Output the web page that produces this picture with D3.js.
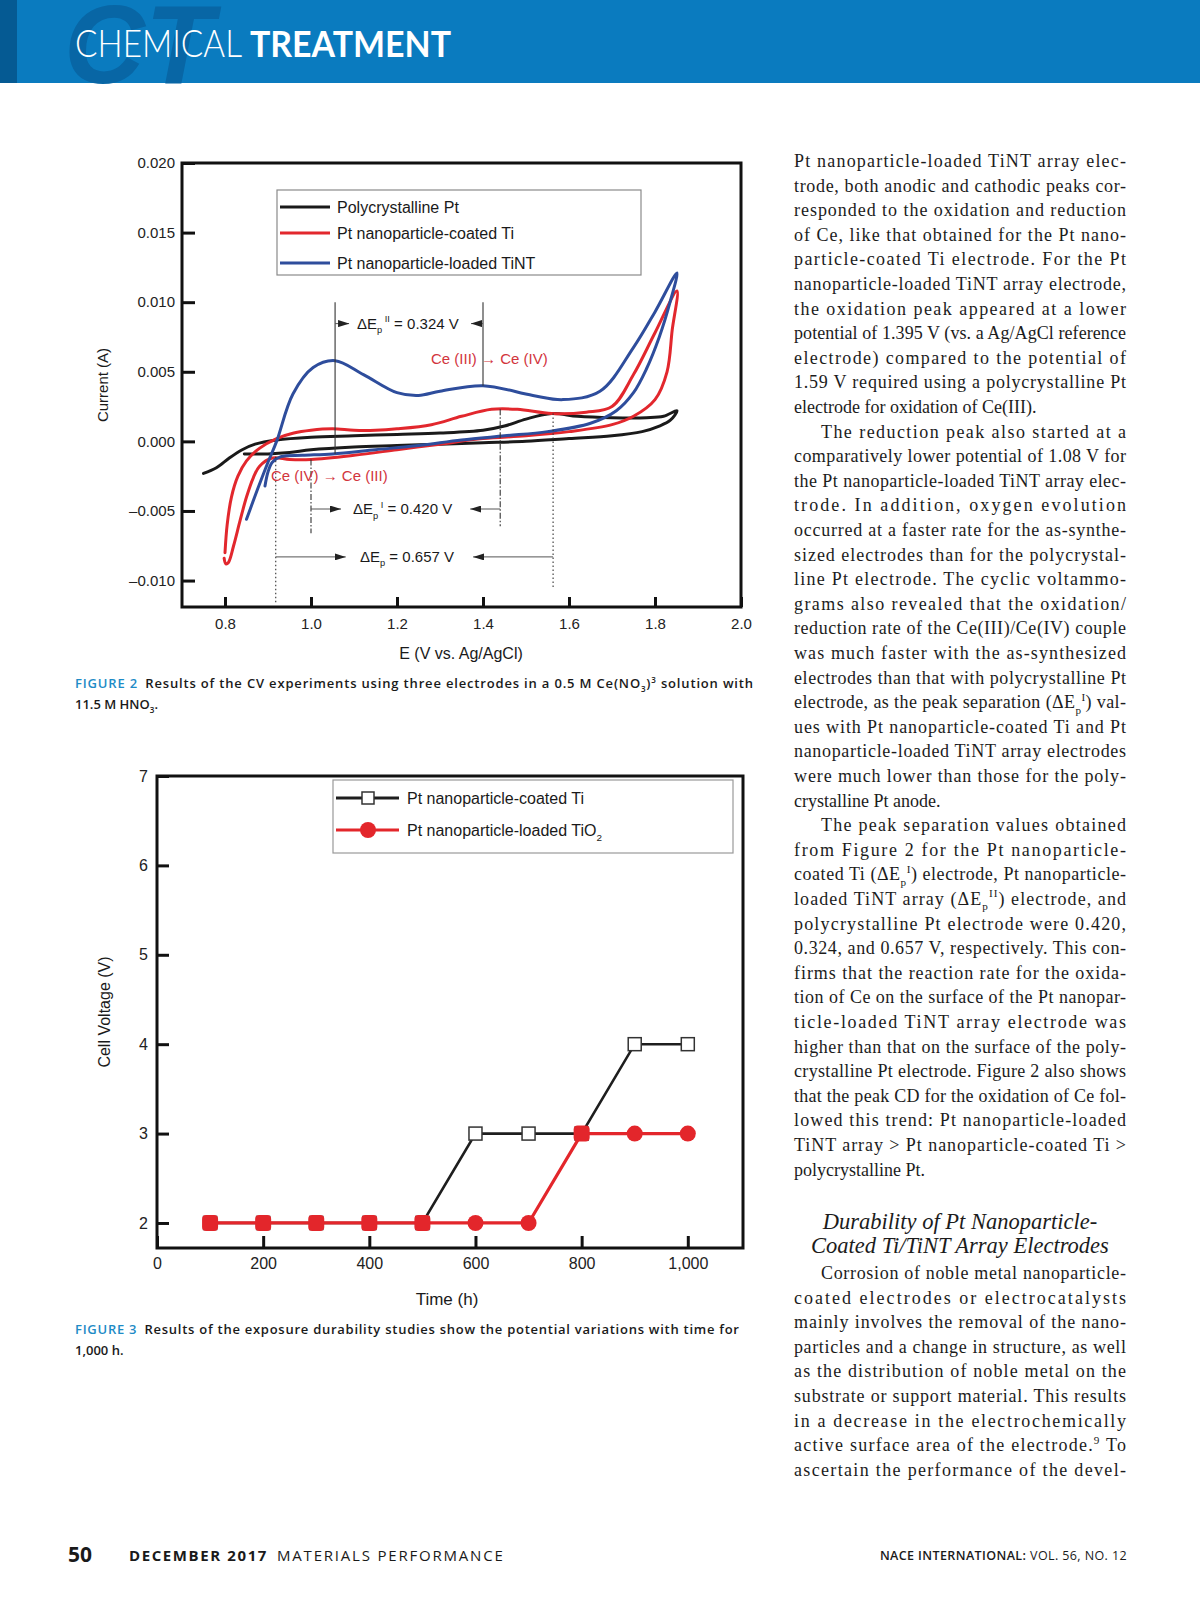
<!DOCTYPE html>
<html>
<head>
<meta charset="UTF-8">
<title>Chemical Treatment - Figures 2 and 3</title>
<script src="https://cdn.jsdelivr.net/npm/d3@7"></script>
<style>
  body { margin: 0; background: #fff; }
  svg { display: block; }
</style>
</head>
<body>
<script>
// ---------- Figure 2: cyclic voltammograms, points are [E (V vs Ag/AgCl), current (A)]
var cvSeries = ["Polycrystalline Pt", "Pt nanoparticle-coated Ti", "Pt nanoparticle-loaded TiNT"];

var cvPolyPt = [
  [0.750,-0.0023],[0.780,-0.0019],[0.810,-0.0012],[0.840,-0.0006],[0.870,-0.0002],[0.920,0.0001],
  [1.000,0.0003],[1.100,0.0004],[1.200,0.0005],[1.300,0.0006],[1.400,0.0008],[1.450,0.0011],
  [1.500,0.0016],[1.560,0.0020],[1.620,0.0018],[1.700,0.0017],[1.780,0.0017],[1.820,0.0018],[1.851,0.0022],
  [1.835,0.0015],[1.810,0.0011],[1.770,0.0007],[1.700,0.0004],[1.600,0.0002],[1.500,0.0000],
  [1.400,-0.0001],[1.300,-0.0002],[1.200,-0.0003],[1.100,-0.0004],[1.000,-0.0006],[0.950,-0.0008],
  [0.900,-0.0009],[0.845,-0.0009]
];

var cvCoatedTi = [
  [0.800,-0.0080],[0.805,-0.0060],[0.815,-0.0040],[0.830,-0.0025],[0.850,-0.0014],[0.880,-0.0005],
  [0.920,0.0002],[0.960,0.0006],[1.000,0.0008],[1.050,0.0009],[1.100,0.0008],[1.150,0.0008],
  [1.200,0.0009],[1.280,0.0012],[1.350,0.0018],[1.420,0.0023],[1.480,0.0023],[1.560,0.0020],
  [1.640,0.0021],[1.700,0.0025],[1.750,0.0048],[1.800,0.0078],[1.851,0.0108],
  [1.840,0.0080],[1.828,0.0050],[1.800,0.0030],[1.750,0.0018],[1.700,0.0012],[1.600,0.0007],
  [1.500,0.0004],[1.400,0.0002],[1.300,-0.0002],[1.200,-0.0006],[1.100,-0.0010],[1.000,-0.0013],
  [0.950,-0.0013],[0.910,-0.0012],[0.880,-0.0018],[0.866,-0.0026],[0.850,-0.0040],[0.835,-0.0057],
  [0.820,-0.0075],[0.808,-0.0087],[0.802,-0.0088],[0.798,-0.0084]
];

var cvLoadedTiNT = [
  [0.850,-0.0056],[0.875,-0.0035],[0.900,-0.0015],[0.920,0.0000],[0.958,0.0034],[1.005,0.0053],
  [1.056,0.0058],[1.122,0.0048],[1.200,0.0035],[1.250,0.0033],[1.300,0.0036],[1.400,0.0040],
  [1.516,0.0033],[1.586,0.0030],[1.672,0.0036],[1.749,0.0067],[1.800,0.0093],[1.851,0.0121],
  [1.835,0.0100],[1.810,0.0075],[1.780,0.0052],[1.750,0.0035],[1.710,0.0022],[1.650,0.0013],
  [1.550,0.0007],[1.450,0.0004],[1.350,0.0001],[1.250,-0.0003],[1.150,-0.0006],[1.050,-0.0009],
  [0.980,-0.0010],[0.930,-0.0011],[0.910,-0.0015],[0.900,-0.0022],[0.893,-0.0032]
];

var cvXTicks = [0.8, 1.0, 1.2, 1.4, 1.6, 1.8, 2.0];
var cvYTicks = [-0.010, -0.005, 0.000, 0.005, 0.010, 0.015, 0.020];

// peak positions (V) used for the separation markers
var peakOxTiNT = 1.056, peakOxTiNT2 = 1.40;
var peakRedTi = 1.00, peakOxTi = 1.44;
var peakRedPt = 0.918, peakOxPt = 1.563;

// ---------- Figure 3: cell voltage vs time
var durSeries = ["Pt nanoparticle-coated Ti", "Pt nanoparticle-loaded TiO_{2}"];
var durTime = [100, 200, 300, 400, 500, 600, 700, 800, 900, 1000];
var durCoatedTi = [2, 2, 2, 2, 2, 3, 3, 3, 4, 4];
var durLoadedTiO2 = [2, 2, 2, 2, 2, 2, 2, 3, 3, 3];
var durXTicks = [0, 200, 400, 600, 800, 1000];
var durYTicks = [2, 3, 4, 5, 6, 7];

var W = 1200, H = 1606;
var sans = "'Liberation Sans', Arial, Helvetica, sans-serif";
var narrow = "'Liberation Sans Narrow', 'Liberation Sans', Arial, sans-serif";
var serif = "'Liberation Serif', 'Times New Roman', serif";
var capFont = "'Open Sans', 'Noto Sans', sans-serif";

var svg = d3.select("body").append("svg")
  .attr("width", W).attr("height", H)
  .attr("viewBox", "0 0 " + W + " " + H);

var defs = svg.append("defs");
defs.append("marker").attr("id", "ahead")
  .attr("markerUnits", "userSpaceOnUse")
  .attr("markerWidth", 11).attr("markerHeight", 7)
  .attr("refX", 11).attr("refY", 3.5).attr("orient", "auto")
  .append("path").attr("d", "M0,0 L11,3.5 L0,7 Z").attr("fill", "#222");

// text with _{sub} and ^{sup} markup
function rich(sel, str, fs) {
  var parts = str.split(/(_\{[^}]*\}|\^\{[^}]*\})/).filter(function (s) { return s.length; });
  var cur = 0;
  parts.forEach(function (p) {
    var off = 0, txt = p, small = false;
    if (p.indexOf("_{") === 0) { off = fs * 0.3; txt = p.slice(2, -1); small = true; }
    else if (p.indexOf("^{") === 0) { off = -fs * 0.42; txt = p.slice(2, -1); small = true; }
    var t = sel.append("tspan").attr("dy", off - cur).text(txt);
    if (small) t.attr("font-size", fs * 0.62);
    cur = off;
  });
  return sel;
}

// ---------- header
var hdr = svg.append("g");
hdr.append("rect").attr("width", W).attr("height", 83).attr("fill", "#0a7bbf");
// big watermark letters behind the title
hdr.append("text").attr("x", 64).attr("y", 83)
  .attr("font-family", sans).attr("font-weight", "bold").attr("font-style", "italic")
  .attr("font-size", 112).attr("fill", "#0866a5").text("CT");
hdr.append("rect").attr("width", 17).attr("height", 83).attr("fill", "#055a93");
hdr.append("text").attr("x", 75).attr("y", 57)
  .attr("font-family", "Lato, 'Open Sans', sans-serif").attr("font-weight", 300)
  .attr("font-size", 37).attr("fill", "#fff")
  .attr("textLength", 167).attr("lengthAdjust", "spacingAndGlyphs").text("CHEMICAL");
hdr.append("text").attr("x", 250).attr("y", 57)
  .attr("font-family", "Lato, 'Open Sans', sans-serif").attr("font-weight", 700)
  .attr("font-size", 37).attr("fill", "#fff")
  .attr("textLength", 201).attr("lengthAdjust", "spacingAndGlyphs").text("TREATMENT");

// ---------- Figure 2
var x2 = d3.scaleLinear().domain([0.7, 2.0]).range([182, 741]);
var y2 = d3.scaleLinear().domain([-0.0119, 0.020]).range([607, 163]);
var f2 = svg.append("g");

function styleAxis(g, fs, fam) {
  g.select(".domain").remove();
  g.selectAll(".tick line").attr("stroke", "#111").attr("stroke-width", 3);
  g.selectAll(".tick text").attr("font-size", fs).attr("font-family", fam).attr("fill", "#222");
}

var yFmt = function (d) {
  var s = d3.format(".3f")(Math.abs(d));
  return d < 0 ? "\u2013" + s : s;
};

f2.append("g").attr("transform", "translate(0,607)")
  .call(d3.axisBottom(x2).tickValues(cvXTicks).tickFormat(d3.format(".1f"))
    .tickSizeInner(-10).tickSizeOuter(0).tickPadding(11))
  .call(styleAxis, 15, sans);
f2.append("g").attr("transform", "translate(182,0)")
  .call(d3.axisLeft(y2).tickValues(cvYTicks).tickFormat(yFmt)
    .tickSizeInner(-13).tickSizeOuter(0).tickPadding(7))
  .call(styleAxis, 15, sans);

var cvLine = d3.line().x(function (d) { return x2(d[0]); }).y(function (d) { return y2(d[1]); })
  .curve(d3.curveCatmullRom.alpha(0.5));
var cvColors = ["#1a1a1a", "#e2272d", "#2e4d9c"];
[cvPolyPt, cvCoatedTi, cvLoadedTiNT].forEach(function (s, i) {
  f2.append("path").attr("d", cvLine(s)).attr("fill", "none")
    .attr("stroke", cvColors[i]).attr("stroke-width", 3).attr("stroke-linejoin", "round")
    .attr("stroke-linecap", "round");
});

// peak markers
function vline(e, i0, i1, dash) {
  f2.append("line").attr("x1", x2(e)).attr("x2", x2(e)).attr("y1", y2(i0)).attr("y2", y2(i1))
    .attr("stroke", "#333").attr("stroke-width", 1.1).attr("stroke-dasharray", dash || null);
}
vline(peakOxTiNT, 0.0100, -0.0009);
vline(peakOxTiNT2, 0.0100, 0.0040);
vline(peakRedTi, -0.0013, -0.0066, "6,2,1.5,2");
vline(peakOxTi, 0.0023, -0.0061, "6,2,1.5,2");
vline(peakRedPt, -0.0011, -0.0116, "1.5,2.5");
vline(peakOxPt, 0.0020, -0.0105, "1.5,2.5");

function arrow(xa, xb, yv) {
  f2.append("line").attr("x1", xa).attr("x2", xb).attr("y1", y2(yv)).attr("y2", y2(yv))
    .attr("stroke", "#555").attr("stroke-width", 1).attr("marker-end", "url(#ahead)");
}
function note(x, yv, str, color) {
  rich(f2.append("text").attr("x", x).attr("y", y2(yv) + 5)
    .attr("font-family", sans).attr("font-size", 15).attr("fill", color || "#1a1a1a"), str, 15);
}
// ΔEp(II)
arrow(x2(peakOxTiNT), x2(peakOxTiNT) + 14, 0.00846);
arrow(x2(peakOxTiNT2), x2(peakOxTiNT2) - 12, 0.00846);
note(357, 0.00846, "\u0394E_{p}^{ II} = 0.324 V");
// ΔEp(I)
arrow(x2(peakRedTi), x2(peakRedTi) + 30, -0.00486);
arrow(x2(peakOxTi), x2(peakOxTi) - 30, -0.00486);
note(353, -0.00486, "\u0394E_{p}^{ I} = 0.420 V");
// ΔEp
arrow(x2(peakRedPt), x2(peakRedPt) + 70, -0.0083);
arrow(x2(peakOxPt), x2(peakOxPt) - 80, -0.0083);
note(360, -0.0083, "\u0394E_{p} = 0.657 V");
note(431, 0.00595, "Ce (III) \u2192 Ce (IV)", "#d2353c");
note(271, -0.00250, "Ce (IV) \u2192 Ce (III)", "#d2353c");

// legend
var lg2 = f2.append("g");
lg2.append("rect").attr("x", 277).attr("y", 190).attr("width", 364).attr("height", 85)
  .attr("fill", "#fff").attr("stroke", "#8a8a8a").attr("stroke-width", 1.2);
cvSeries.forEach(function (name, i) {
  var yy = [207, 233, 263][i];
  lg2.append("line").attr("x1", 280).attr("x2", 330).attr("y1", yy).attr("y2", yy)
    .attr("stroke", cvColors[i]).attr("stroke-width", 3.2);
  lg2.append("text").attr("x", 337).attr("y", yy + 6).attr("font-family", sans)
    .attr("font-size", 16).attr("fill", "#1a1a1a").text(name);
});

f2.append("rect").attr("x", 182).attr("y", 163).attr("width", 741 - 182).attr("height", 607 - 163)
  .attr("fill", "none").attr("stroke", "#111").attr("stroke-width", 3);

f2.append("text").attr("transform", "translate(102,385) rotate(-90)")
  .attr("text-anchor", "middle").attr("dominant-baseline", "central")
  .attr("font-family", sans).attr("font-size", 15).attr("fill", "#1a1a1a").text("Current (A)");
f2.append("text").attr("x", 461).attr("y", 659).attr("text-anchor", "middle")
  .attr("font-family", sans).attr("font-size", 16).attr("fill", "#1a1a1a").text("E (V vs. Ag/AgCl)");

// ---------- Figure 3
var x3 = d3.scaleLinear().domain([0, 1104]).range([157, 743]);
var y3 = d3.scaleLinear().domain([1.72, 7]).range([1248, 776]);
var f3 = svg.append("g");

f3.append("g").attr("transform", "translate(0,1248)")
  .call(d3.axisBottom(x3).tickValues(durXTicks).tickFormat(d3.format(","))
    .tickSizeInner(-12).tickSizeOuter(0).tickPadding(10))
  .call(styleAxis, 16, narrow);
f3.append("g").attr("transform", "translate(157,0)")
  .call(d3.axisLeft(y3).tickValues(durYTicks).tickFormat(d3.format("d"))
    .tickSizeInner(-12).tickSizeOuter(0).tickPadding(9))
  .call(styleAxis, 16, narrow);

var durLine = d3.line().x(function (d) { return x3(d[0]); }).y(function (d) { return y3(d[1]); });
var coated = durTime.map(function (t, i) { return [t, durCoatedTi[i]]; });
var loaded = durTime.map(function (t, i) { return [t, durLoadedTiO2[i]]; });

f3.append("path").attr("d", durLine(coated)).attr("fill", "none")
  .attr("stroke", "#1e1e1e").attr("stroke-width", 2.6);
f3.selectAll(".sq").data(coated).enter().append("rect")
  .attr("x", function (d) { return x3(d[0]) - 6.5; }).attr("y", function (d) { return y3(d[1]) - 6.5; })
  .attr("width", 13).attr("height", 13).attr("fill", "#fff").attr("stroke", "#333").attr("stroke-width", 1.5);
f3.append("path").attr("d", durLine(loaded)).attr("fill", "none")
  .attr("stroke", "#e3262b").attr("stroke-width", 3.2);
loaded.forEach(function (d, i) {
  if (d[1] === durCoatedTi[i]) {
    f3.append("rect").attr("x", x3(d[0]) - 8).attr("y", y3(d[1]) - 8).attr("width", 16).attr("height", 16)
      .attr("rx", 4).attr("fill", "#e3262b");
  } else {
    f3.append("circle").attr("cx", x3(d[0])).attr("cy", y3(d[1])).attr("r", 8).attr("fill", "#e3262b");
  }
});

var lg3 = f3.append("g");
lg3.append("rect").attr("x", 333).attr("y", 780).attr("width", 400).attr("height", 73)
  .attr("fill", "#fff").attr("stroke", "#999").attr("stroke-width", 1.2);
lg3.append("line").attr("x1", 336).attr("x2", 399).attr("y1", 798).attr("y2", 798)
  .attr("stroke", "#1e1e1e").attr("stroke-width", 3);
lg3.append("rect").attr("x", 362).attr("y", 792).attr("width", 12).attr("height", 12)
  .attr("fill", "#fff").attr("stroke", "#333").attr("stroke-width", 1.5);
lg3.append("line").attr("x1", 336).attr("x2", 399).attr("y1", 830).attr("y2", 830)
  .attr("stroke", "#e3262b").attr("stroke-width", 3.2);
lg3.append("circle").attr("cx", 368).attr("cy", 830).attr("r", 8).attr("fill", "#e3262b");
durSeries.forEach(function (name, i) {
  rich(lg3.append("text").attr("x", 407).attr("y", [798, 830][i] + 6)
    .attr("font-family", sans).attr("font-size", 16).attr("fill", "#1a1a1a"), name, 16);
});

f3.append("rect").attr("x", 157).attr("y", 776).attr("width", 743 - 157).attr("height", 1248 - 776)
  .attr("fill", "none").attr("stroke", "#111").attr("stroke-width", 3);

f3.append("text").attr("transform", "translate(104,1012) rotate(-90)")
  .attr("text-anchor", "middle").attr("dominant-baseline", "central")
  .attr("font-family", narrow).attr("font-size", 16).attr("fill", "#1a1a1a").text("Cell Voltage (V)");
f3.append("text").attr("x", 447).attr("y", 1305).attr("text-anchor", "middle")
  .attr("font-family", narrow).attr("font-size", 17).attr("fill", "#1a1a1a").text("Time (h)");

// ---------- captions
function caption(label, line1, w1, line2, x, y) {
  var t = svg.append("text").attr("x", x).attr("y", y).attr("font-family", capFont)
    .attr("font-size", 13).attr("font-weight", 600).attr("fill", "#1a1a1a")
    .attr("textLength", w1).attr("lengthAdjust", "spacing");
  t.append("tspan").attr("fill", "#1e8bc6").text(label + "\u2002");
  rich(t, line1, 13);
  rich(svg.append("text").attr("x", x).attr("y", y + 21).attr("font-family", capFont)
    .attr("font-size", 13).attr("font-weight", 600).attr("fill", "#1a1a1a"), line2, 13);
}
caption("FIGURE 2", "Results of the CV experiments using three electrodes in a 0.5 M Ce(NO_{3})^{3} solution with",
  678, "11.5 M HNO_{3}.", 75, 688);
caption("FIGURE 3", "Results of the exposure durability studies show the potential variations with time for",
  664, "1,000 h.", 75, 1334);

// ---------- right column text
var fsBody = 18;
var col = svg.append("g").attr("font-family", serif).attr("font-size", fsBody).attr("fill", "#1c1c1c");
var colX = 794, colW = 332, lead = 24.6, indent = 27;
var block1 = [
  ["Pt nanoparticle-loaded TiNT array elec-", 1],
  ["trode, both anodic and cathodic peaks cor-", 1],
  ["responded to the oxidation and reduction", 1],
  ["of Ce, like that obtained for the Pt nano-", 1],
  ["particle-coated Ti electrode. For the Pt", 1],
  ["nanoparticle-loaded TiNT array electrode,", 1],
  ["the oxidation peak appeared at a lower", 1],
  ["potential of 1.395 V (vs. a Ag/AgCl reference", 1],
  ["electrode) compared to the potential of", 1],
  ["1.59 V required using a polycrystalline Pt", 1],
  ["electrode for oxidation of Ce(III).", 0],
  ["The reduction peak also started at a", 2],
  ["comparatively lower potential of 1.08 V for", 1],
  ["the Pt nanoparticle-loaded TiNT array elec-", 1],
  ["trode. In addition, oxygen evolution", 1],
  ["occurred at a faster rate for the as-synthe-", 1],
  ["sized electrodes than for the polycrystal-", 1],
  ["line Pt electrode. The cyclic voltammo-", 1],
  ["grams also revealed that the oxidation/", 1],
  ["reduction rate of the Ce(III)/Ce(IV) couple", 1],
  ["was much faster with the as-synthesized", 1],
  ["electrodes than that with polycrystalline Pt", 1],
  ["electrode, as the peak separation (\u0394E_{p}^{I}) val-", 1],
  ["ues with Pt nanoparticle-coated Ti and Pt", 1],
  ["nanoparticle-loaded TiNT array electrodes", 1],
  ["were much lower than those for the poly-", 1],
  ["crystalline Pt anode.", 0],
  ["The peak separation values obtained", 2],
  ["from Figure 2 for the Pt nanoparticle-", 1],
  ["coated Ti (\u0394E_{p}^{I}) electrode, Pt nanoparticle-", 1],
  ["loaded TiNT array (\u0394E_{p}^{II}) electrode, and", 1],
  ["polycrystalline Pt electrode were 0.420,", 1],
  ["0.324, and 0.657 V, respectively. This con-", 1],
  ["firms that the reaction rate for the oxida-", 1],
  ["tion of Ce on the surface of the Pt nanopar-", 1],
  ["ticle-loaded TiNT array electrode was", 1],
  ["higher than that on the surface of the poly-", 1],
  ["crystalline Pt electrode. Figure 2 also shows", 1],
  ["that the peak CD for the oxidation of Ce fol-", 1],
  ["lowed this trend: Pt nanoparticle-loaded", 1],
  ["TiNT array > Pt nanoparticle-coated Ti >", 1],
  ["polycrystalline Pt.", 0]
];
var block2 = [
  ["Corrosion of noble metal nanoparticle-", 2],
  ["coated electrodes or electrocatalysts", 1],
  ["mainly involves the removal of the nano-", 1],
  ["particles and a change in structure, as well", 1],
  ["as the distribution of noble metal on the", 1],
  ["substrate or support material. This results", 1],
  ["in a decrease in the electrochemically", 1],
  ["active surface area of the electrode.^{9} To", 1],
  ["ascertain the performance of the devel-", 1]
];
function setLines(lines, y0) {
  lines.forEach(function (l, i) {
    var ind = l[1] === 2 ? indent : 0;
    var t = col.append("text").attr("x", colX + ind).attr("y", y0 + i * lead);
    if (l[1]) t.attr("textLength", colW - ind).attr("lengthAdjust", "spacing");
    rich(t, l[0], fsBody);
  });
}
setLines(block1, 167);
setLines(block2, 1279);
col.append("text").attr("x", 960).attr("y", 1229).attr("text-anchor", "middle")
  .attr("font-style", "italic").attr("font-size", 22.5).text("Durability of Pt Nanoparticle-");
col.append("text").attr("x", 960).attr("y", 1253).attr("text-anchor", "middle")
  .attr("font-style", "italic").attr("font-size", 22.5).text("Coated Ti/TiNT Array Electrodes");

// ---------- footer
var ft = svg.append("g").attr("fill", "#1a1a1a");
ft.append("text").attr("x", 68).attr("y", 1562).attr("font-family", capFont)
  .attr("font-weight", 700).attr("font-size", 21).text("50");
ft.append("text").attr("x", 129).attr("y", 1561).attr("font-family", capFont)
  .attr("font-weight", 700).attr("font-size", 15).attr("letter-spacing", 1.6).text("DECEMBER 2017");
ft.append("text").attr("x", 277).attr("y", 1561).attr("font-family", capFont)
  .attr("font-weight", 400).attr("font-size", 15).attr("letter-spacing", 1.8).text("MATERIALS PERFORMANCE");
var rt = ft.append("text").attr("x", 1127).attr("y", 1560).attr("text-anchor", "end")
  .attr("font-family", capFont).attr("font-size", 12.5).attr("letter-spacing", 0.4);
rt.append("tspan").attr("font-weight", 600).text("NACE INTERNATIONAL: ");
rt.append("tspan").text("VOL. 56, NO. 12");
</script>
</body>
</html>
